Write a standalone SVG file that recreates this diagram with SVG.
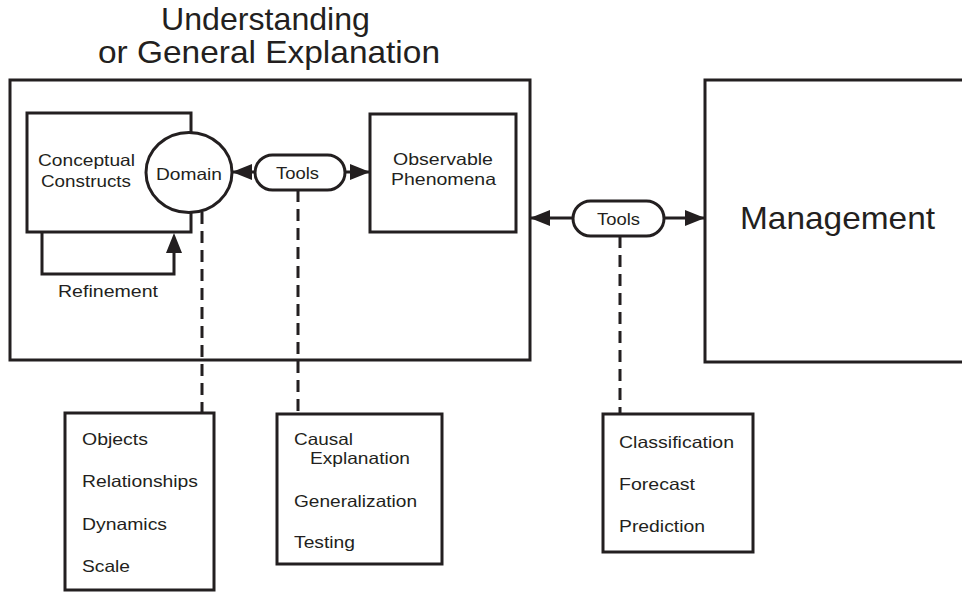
<svg xmlns="http://www.w3.org/2000/svg" width="962" height="592" viewBox="0 0 962 592">
<style>
  .box{fill:#fff;stroke:#231f20;stroke-width:3}
  .ln{fill:none;stroke:#231f20;stroke-width:3}
  .dash{fill:none;stroke:#231f20;stroke-width:3;stroke-dasharray:12 7}
  text{font-family:"Liberation Sans",Arial,sans-serif;fill:#231f20}
  .s{font-size:16.5px}
  .big{font-size:30.5px}
</style>
<defs>
  <marker id="ah" viewBox="0 0 20 16" refX="20" refY="8" markerWidth="20" markerHeight="16" markerUnits="userSpaceOnUse" orient="auto-start-reverse">
    <path d="M0,0 L20,8 L0,16 Z" fill="#231f20"/>
  </marker>
</defs>
<rect width="962" height="592" fill="#fff"/>
<g id="title">
  <text class="big" x="161" y="30" textLength="209" lengthAdjust="spacingAndGlyphs">Understanding</text>
  <text class="big" x="98" y="63" textLength="342" lengthAdjust="spacingAndGlyphs">or General Explanation</text>
</g>
<g id="understanding"><rect class="box" x="10" y="80" width="520" height="280"/></g>
<g id="management">
  <rect class="box" x="705" y="80" width="270" height="282"/>
  <text class="big" x="740" y="229" textLength="195" lengthAdjust="spacingAndGlyphs">Management</text>
</g>
<g id="conceptual">
  <rect class="box" x="27" y="113" width="164" height="119"/>
  <text class="s" x="38" y="166" textLength="97" lengthAdjust="spacingAndGlyphs">Conceptual</text>
  <text class="s" x="41" y="187" textLength="90" lengthAdjust="spacingAndGlyphs">Constructs</text>
</g>
<g id="connectors">
  <path class="ln" d="M42,232 V274 H174 V253"/>
  <polygon points="174,233 166,253 182,253" fill="#231f20"/>
  <path class="ln" d="M255,172 H232" marker-end="url(#ah)"/>
  <path class="ln" d="M345,172 H370" marker-end="url(#ah)"/>
  <path class="ln" d="M573,218 H530" marker-end="url(#ah)"/>
  <path class="ln" d="M664,218 H705" marker-end="url(#ah)"/>
  <path class="dash" d="M202,212 V413"/>
  <path class="dash" d="M298,190 V414"/>
  <path class="dash" d="M620,236 V414"/>
</g>
<g id="domain">
  <ellipse class="box" cx="189" cy="172.5" rx="43" ry="40"/>
  <text class="s" x="156" y="180" textLength="66" lengthAdjust="spacingAndGlyphs">Domain</text>
</g>
<g id="refinement-label">
  <text class="s" x="58" y="297" textLength="100" lengthAdjust="spacingAndGlyphs">Refinement</text>
</g>
<g id="tools1">
  <rect class="box" x="255" y="155" width="90" height="35" rx="17.5"/>
  <text class="s" x="276" y="179" textLength="43" lengthAdjust="spacingAndGlyphs">Tools</text>
</g>
<g id="observable">
  <rect class="box" x="370" y="114" width="146" height="118"/>
  <text class="s" x="393" y="165" textLength="100" lengthAdjust="spacingAndGlyphs">Observable</text>
  <text class="s" x="391" y="185" textLength="105" lengthAdjust="spacingAndGlyphs">Phenomena</text>
</g>
<g id="tools2">
  <rect class="box" x="573" y="201" width="91" height="35" rx="17.5"/>
  <text class="s" x="597" y="225" textLength="43" lengthAdjust="spacingAndGlyphs">Tools</text>
</g>
<g id="domain-list">
  <rect class="box" x="65" y="413" width="149" height="177"/>
  <text class="s" x="82" y="445" textLength="66" lengthAdjust="spacingAndGlyphs">Objects</text>
  <text class="s" x="82" y="487" textLength="116" lengthAdjust="spacingAndGlyphs">Relationships</text>
  <text class="s" x="82" y="530" textLength="85" lengthAdjust="spacingAndGlyphs">Dynamics</text>
  <text class="s" x="82" y="572" textLength="48" lengthAdjust="spacingAndGlyphs">Scale</text>
</g>
<g id="tools1-list">
  <rect class="box" x="277" y="414" width="165" height="150"/>
  <text class="s" x="294" y="445" textLength="59" lengthAdjust="spacingAndGlyphs">Causal</text>
  <text class="s" x="310" y="464" textLength="100" lengthAdjust="spacingAndGlyphs">Explanation</text>
  <text class="s" x="294" y="507" textLength="123" lengthAdjust="spacingAndGlyphs">Generalization</text>
  <text class="s" x="294" y="548" textLength="61" lengthAdjust="spacingAndGlyphs">Testing</text>
</g>
<g id="tools2-list">
  <rect class="box" x="603" y="414" width="150" height="138"/>
  <text class="s" x="619" y="448" textLength="115" lengthAdjust="spacingAndGlyphs">Classification</text>
  <text class="s" x="619" y="490" textLength="76" lengthAdjust="spacingAndGlyphs">Forecast</text>
  <text class="s" x="619" y="532" textLength="86" lengthAdjust="spacingAndGlyphs">Prediction</text>
</g>
</svg>
